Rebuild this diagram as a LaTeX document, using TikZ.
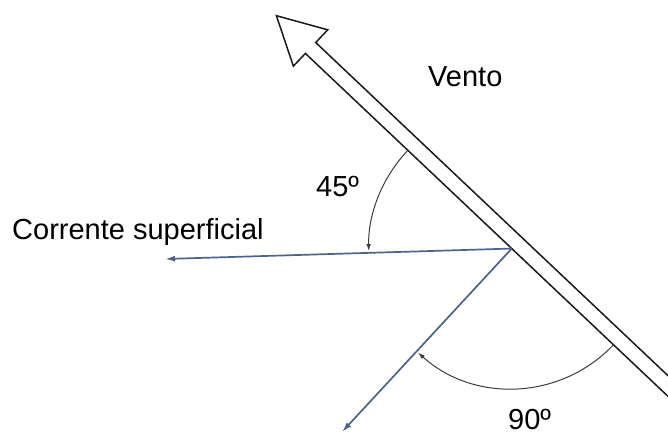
\documentclass[tikz,border=0pt]{standalone}
\usepackage{fontspec}
\setmainfont{Liberation Sans}
\usetikzlibrary{arrows.meta}
\definecolor{ink}{HTML}{1A1A1A}
\definecolor{flowblue}{HTML}{4F6388}
\tikzset{
  windarrow/.style={draw=ink, line width=1.5pt, fill=white, line join=miter},
  current/.style={-{Latex[length=10pt,width=6pt]}, draw=flowblue, line width=1.7pt},
  anglearc/.style={-{Latex[length=7pt,width=4.5pt]}, draw=ink!85, line width=1pt},
  lbl/.style={font=\fontsize{29}{34}\selectfont, text=black, inner sep=0pt, anchor=base west},
}

\begin{document}
\begin{tikzpicture}[x=1pt,y=1pt]
\useasboundingbox (0,0) rectangle (668,436);
\clip (0,0) rectangle (668,436);

% wind arrow
\begin{scope}[shift={(276.4,420.3)}, rotate=-43.4]
\draw[windarrow] (0,0) -- (47,25) -- (47,7.5) -- (700,7.5) -- (700,-7.5)
  -- (47,-7.5) -- (47,-25) -- cycle;
\coordinate (o) at (331,-7.5);
\end{scope}

% currents
\coordinate (cs) at (165,177);
\coordinate (cf) at (342,4);
\draw[current] (o) -- (cs);
\draw[current] (o) -- (cf);

% angles
\draw[anglearc] ([shift={(136.6:143)}]o) arc[start angle=136.6, end angle=181, radius=143];
\draw[anglearc] ([shift={(-43.4:140)}]o) arc[start angle=-43.4, end angle=-132, radius=140];

% labels
\node[lbl] (vento) at (428,349) {Vento};
\node[lbl] (corr) at (12,196) {Corrente superficial};
\node[lbl] (a45) at (316,239) {45º};
\node[lbl] (a90) at (508,7) {90º};
\end{tikzpicture}
\end{document}
